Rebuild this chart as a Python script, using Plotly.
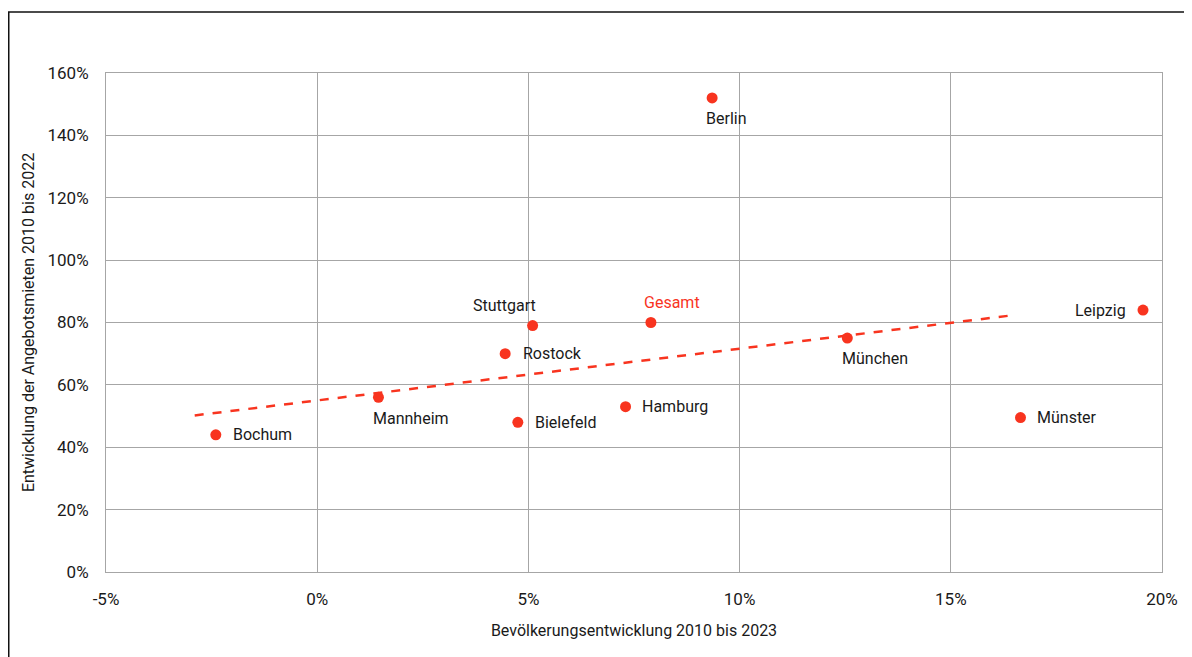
import plotly.graph_objects as go

cities = ["Berlin", "Leipzig", "München", "Gesamt", "Stuttgart", "Rostock",
          "Hamburg", "Bielefeld", "Mannheim", "Bochum", "Münster"]
pop_growth = [9.35, 19.55, 12.55, 7.9, 5.1, 4.45, 7.3, 4.75, 1.45, -2.4, 16.65]
rent_growth = [152, 84, 75, 80, 79, 70, 53, 48, 56, 44, 49.5]

trend_x = [-2.9, 16.45]
trend_y = [50.2, 82.3]

x_ticks = [-5, 0, 5, 10, 15, 20]
x_labels = ["-5%", "0%", "5%", "10%", "15%", "20%"]
y_ticks = [0, 20, 40, 60, 80, 100, 120, 140, 160]
y_labels = [f"{v}%" for v in y_ticks]

RED = "#f8341f"
FONT = "Roboto Condensed, DejaVu Sans Condensed, Roboto, sans-serif"
FONT = "Roboto, sans-serif"

# label placement: (xshift, yshift, xanchor)
label_pos = {
    "Berlin": (14, -21, "center"),
    "Leipzig": (-15, 0, "right"),
    "München": (28, -20, "center"),
    "Gesamt": (21, 20, "center"),
    "Stuttgart": (-28, 20, "center"),
    "Rostock": (16, 0, "left"),
    "Hamburg": (14, 0, "left"),
    "Bielefeld": (15, 0, "left"),
    "Mannheim": (33, -21, "center"),
    "Bochum": (15, 0, "left"),
    "Münster": (14, 0, "left"),
}

fig = go.Figure()
fig.add_trace(go.Scatter(
    x=trend_x, y=trend_y, mode="lines",
    line=dict(color=RED, width=2.5, dash="dash"),
    hoverinfo="skip", showlegend=False,
))
fig.add_trace(go.Scatter(
    x=pop_growth, y=rent_growth, mode="markers",
    marker=dict(color=RED, size=11),
    text=cities, showlegend=False,
))

for c, xv, yv in zip(cities, pop_growth, rent_growth):
    xs, ys, xa = label_pos[c]
    fig.add_annotation(
        x=xv, y=yv, xref="x", yref="y", text=c, showarrow=False,
        xshift=xs, yshift=ys, xanchor=xa, yanchor="middle",
        font=dict(size=16, color=RED if c == "Gesamt" else "#1a1a1a", family=FONT),
    )

L, T, B, R = 98, 65, 93, 38
PW, PH = 1192 - L - R, 657 - T - B
# outer frame
fig.add_shape(type="rect", xref="paper", yref="paper",
              x0=(0.75 - L) / PW, x1=1.2, y0=-0.4, y1=1 + (T - 4) / PH,
              line=dict(color="#111", width=1.5), layer="below")

axis_common = dict(
    showgrid=True, gridcolor="#a6a6a6", gridwidth=1,
    showline=True, linecolor="#a6a6a6", linewidth=1, mirror=True,
    zeroline=False, ticks="",
    tickfont=dict(size=17, color="#1a1a1a", family=FONT),
)

fig.update_layout(
    width=1192, height=657,
    margin=dict(l=L, r=R, t=T, b=B),
    paper_bgcolor="white", plot_bgcolor="white",
    font=dict(family=FONT),
    xaxis=dict(range=[-5, 20], tickvals=x_ticks, ticktext=x_labels,
               ticklabelstandoff=12,
               title=dict(text="Bevölkerungsentwicklung 2010 bis 2023",
                          font=dict(size=16, color="#1a1a1a", family=FONT),
                          standoff=16),
               **axis_common),
    yaxis=dict(range=[0, 160], tickvals=y_ticks, ticktext=y_labels,
               ticklabelstandoff=13,
               title=dict(text="Entwicklung der Angebotsmieten 2010 bis 2022",
                          font=dict(size=16, color="#1a1a1a", family=FONT),
                          standoff=8),
               **axis_common),
)

fig.write_html("out.html")
